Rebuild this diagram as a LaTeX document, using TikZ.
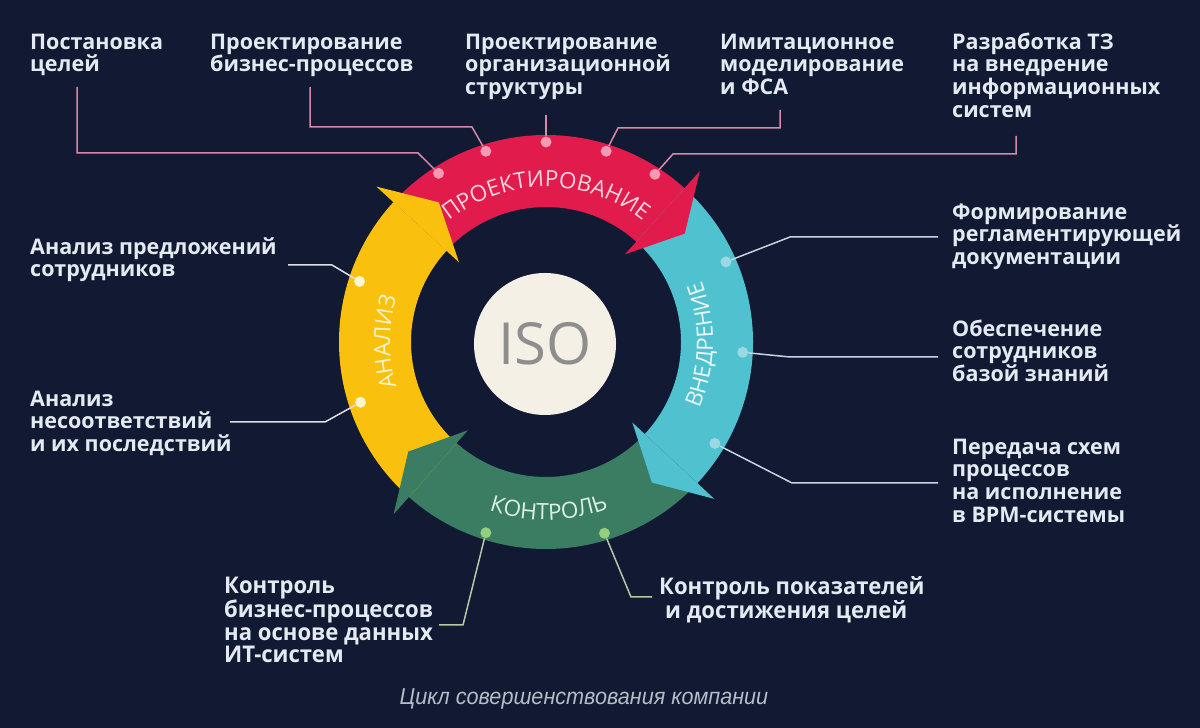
\documentclass[tikz,border=0pt]{standalone}
\usepackage{fontspec}
\setmainfont{Open Sans}
\newfontfamily\condfont[FakeStretch=0.96]{Open Sans}
\newfontfamily\capfont[FakeStretch=0.94]{Liberation Sans}
\usetikzlibrary{decorations.text}
\definecolor{bg}{HTML}{121A33}
\definecolor{bandred}{HTML}{E21B4D}
\definecolor{bandyellow}{HTML}{F9C10E}
\definecolor{bandblue}{HTML}{4FC1CF}
\definecolor{bandgreen}{HTML}{3B7D62}
\definecolor{cream}{HTML}{F4F0E6}
\definecolor{isogray}{HTML}{8E8E8E}
\definecolor{labeltext}{HTML}{E4EAF2}
\definecolor{captext}{HTML}{B4BCC8}
\definecolor{reddot}{HTML}{F49AB3}
\definecolor{bluedot}{HTML}{9AD9E2}
\definecolor{yellowdot}{HTML}{FFF5CF}
\definecolor{greendot}{HTML}{93CF7F}
\definecolor{redline}{HTML}{D48AA8}
\definecolor{blueline}{HTML}{C5D4DE}
\definecolor{yellowline}{HTML}{DDE0E4}
\definecolor{greenline}{HTML}{B6C8A3}
\definecolor{redtext}{HTML}{FBD5DE}
\definecolor{bluetext}{HTML}{EAF8FA}
\definecolor{yellowtext}{HTML}{FFF4CC}
\definecolor{greentext}{HTML}{DDF1E3}
\newcommand\arcfont{\fontsize{22.5}{22.5}\selectfont}
\newcommand\firstline{\rule{0pt}{17pt}}
\tikzset{
  lbl/.style={anchor=north west, inner sep=0pt, align=left, text=labeltext,
    font=\fontsize{21.5}{22.7}\selectfont\bfseries},
  lblcond/.style={anchor=north west, inner sep=0pt, align=left, text=labeltext,
    font=\condfont\fontsize{23}{22.7}\selectfont\bfseries},
  ringdot/.style={circle, inner sep=0pt, minimum size=11pt},
  conn/.style={line width=1.5pt},
  arctext/.style={decorate, decoration={text along path, text align=center}}
}
\begin{document}
\begin{tikzpicture}[x=1pt,y=1pt]
\fill[bg] (0,0) rectangle (1200,728);

\begin{scope}[shift={(546,386)}]
  % bands
  \fill[bandred] (137.5:207pt) arc[start angle=137.5, end angle=48, radius=207pt]
     -- (48:135pt) arc[start angle=48, end angle=137.5, radius=135pt] -- cycle;
  \fill[bandblue] (48:207pt) arc[start angle=48, end angle=-43, radius=207pt]
     -- (-43:135pt) arc[start angle=-43, end angle=48, radius=135pt] -- cycle;
  \fill[bandgreen] (-43:207pt) arc[start angle=-43, end angle=-131.5, radius=207pt]
     -- (-131.5:135pt) arc[start angle=-131.5, end angle=-43, radius=135pt] -- cycle;
  \fill[bandyellow] (228.5:207pt) arc[start angle=228.5, end angle=137.5, radius=207pt]
     -- (137.5:135pt) arc[start angle=137.5, end angle=228.5, radius=135pt] -- cycle;
  % heads
  \fill[bandred] (48:230pt) -- (38:176pt) -- (48:118pt) -- cycle;
  \fill[bandblue] (-43:230pt) -- (-53:176pt) -- (-43:118pt) -- cycle;
  \fill[bandgreen] (228.5:230pt) -- (218.5:176pt) -- (228.5:118pt) -- cycle;
  \fill[bandyellow] (137.5:230pt) -- (127.5:176pt) -- (137.5:118pt) -- cycle;
  % band titles
  \path[arctext, decoration={text={|\arcfont\color{redtext}|ПРОЕКТИРОВАНИЕ}}]
     (160:155pt) arc[start angle=160, end angle=20, radius=155pt];
  \path[arctext, decoration={text={|\arcfont\color{bluetext}|ВНЕДРЕНИЕ}}]
     (-41:167pt) arc[start angle=-41, end angle=39, radius=167pt];
  \path[arctext, decoration={text={|\arcfont\color{yellowtext}|АНАЛИЗ}}]
     (220:156pt) arc[start angle=220, end angle=140, radius=156pt];
  \path[arctext, decoration={text={|\arcfont\color{greentext}|КОНТРОЛЬ}}]
     (231:178pt) arc[start angle=231, end angle=311, radius=178pt];
  % dots
  \node[ringdot, fill=reddot] (d1) at (122.5:200pt) {};
  \node[ringdot, fill=reddot] (d2) at (107.5:200pt) {};
  \node[ringdot, fill=reddot] (d3) at (90:200pt) {};
  \node[ringdot, fill=reddot] (d4) at (72.5:200pt) {};
  \node[ringdot, fill=reddot] (d5) at (57:200pt) {};
  \node[ringdot, fill=bluedot] (d6) at (24:197pt) {};
  \node[ringdot, fill=bluedot] (d7) at (-3:197pt) {};
  \node[ringdot, fill=bluedot] (d8) at (-31:197pt) {};
  \node[ringdot, fill=yellowdot] (d9) at (162:196pt) {};
  \node[ringdot, fill=yellowdot] (d10) at (198:195pt) {};
  \node[ringdot, fill=greendot] (d11) at (252.5:200pt) {};
  \node[ringdot, fill=greendot] (d12) at (287:200pt) {};
\end{scope}

% ISO circle
\node[circle, fill=cream, minimum size=142pt, inner sep=0pt, text=isogray,
  font=\fontsize{58}{58}\selectfont] (iso) at (545,384) {ISO};

% labels
\node[lbl] (t1) at (30,696) {\firstline Постановка\\целей};
\node[lbl] (t2) at (210,696) {\firstline Проектирование\\бизнес-процессов};
\node[lbl] (t3) at (465,696) {\firstline Проектирование\\организационной\\структуры};
\node[lbl] (t4) at (720,696) {\firstline Имитационное\\моделирование\\и ФСА};
\node[lbl] (t5) at (952,696) {\firstline Разработка ТЗ\\на внедрение\\информационных\\систем};
\node[lbl] (r6) at (952,526) {\firstline Формирование\\регламентирующей\\документации};
\node[lbl] (r7) at (952,409) {\firstline Обеспечение\\сотрудников\\базой знаний};
\node[lbl] (r8) at (952,291) {\firstline Передача схем\\процессов\\на исполнение\\в BPM-системы};
\node[lbl] (l9) at (30,491) {\firstline Анализ предложений\\сотрудников};
\node[lbl] (l10) at (30,339) {\firstline Анализ\\несоответствий\\и их последствий};
\node[lblcond] (b11) at (224,152) {\firstline Контроль\\бизнес-процессов\\на основе данных\\ИТ-систем};
\node[lblcond] (b12) at (659,152) {\firstline Контроль показателей\\\hspace*{6pt}и достижения целей};
\node[text=captext, font=\capfont\itshape\fontsize{23}{23}\selectfont] (cap) at (584,29)
  {Цикл совершенствования компании};

% connector ends
\coordinate (e1) at (77,641);
\coordinate (e2) at (310,641);
\coordinate (e3) at (546,613);
\coordinate (e4) at (780,618);
\coordinate (e5) at (1016,592);
\coordinate (e6) at (938,491);
\coordinate (e7) at (938,371);
\coordinate (e8) at (938,245);
\coordinate (e9) at (288,463);
\coordinate (e10) at (230,306);
\coordinate (e11) at (439,103);
\coordinate (e12) at (652,131);

\draw[conn, redline] (d1) -- (418,575) -- (77,575) -- (e1);
\draw[conn, redline] (d2) -- (472,601) -- (310,601) -- (e2);
\draw[conn, redline] (d3) -- (e3);
\draw[conn, redline] (d4) -- (618,600) -- (780,600) -- (e4);
\draw[conn, redline] (d5) -- (673,574) -- (1016,574) -- (e5);
\draw[conn, blueline] (d6) -- (790,491) -- (e6);
\draw[conn, blueline] (d7) -- (790,371) -- (e7);
\draw[conn, blueline] (d8) -- (792,245) -- (e8);
\draw[conn, yellowline] (d9) -- (332,463) -- (e9);
\draw[conn, yellowline] (d10) -- (325,306) -- (e10);
\draw[conn, greenline] (d11) -- (463,103) -- (e11);
\draw[conn, greenline] (d12) -- (631,131) -- (e12);
\end{tikzpicture}
\end{document}
